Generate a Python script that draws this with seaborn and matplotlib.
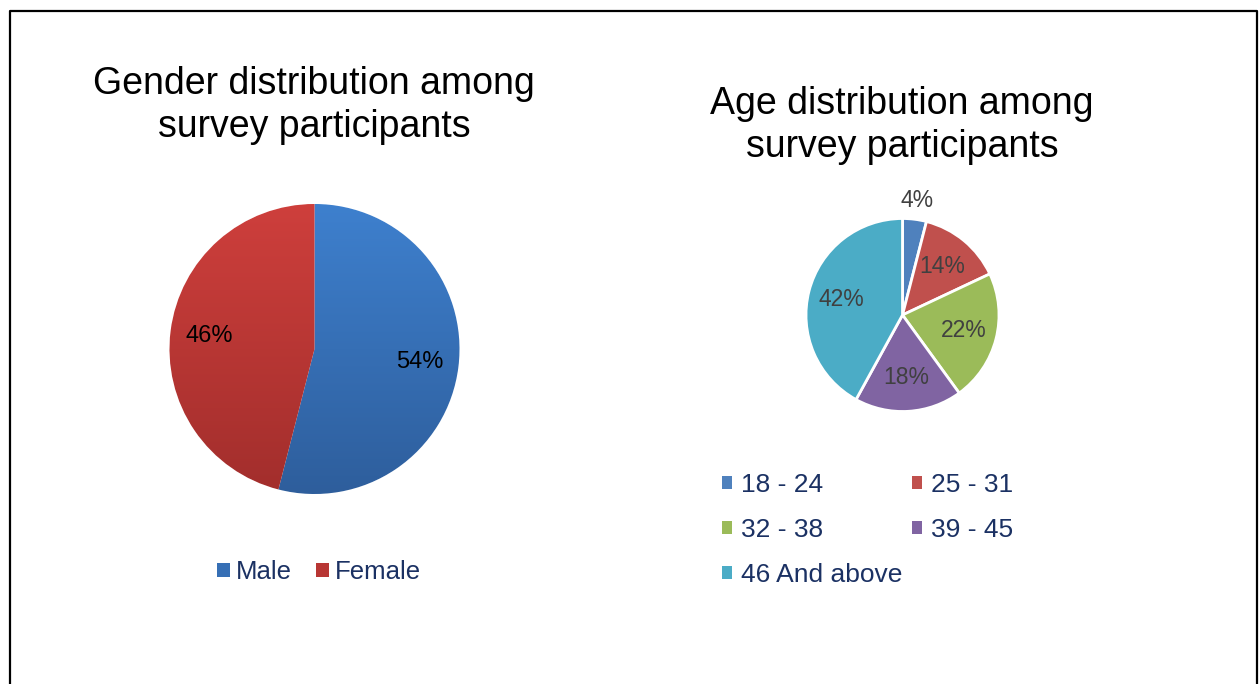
import numpy as np
import matplotlib
matplotlib.use("Agg")
import matplotlib.pyplot as plt
import matplotlib.patches as mpatches
from matplotlib.colors import LinearSegmentedColormap
from matplotlib.lines import Line2D
import seaborn as sns

# ---- data ----
gender_labels = ["Male", "Female"]
gender_values = [54, 46]
gender_top_colors = ["#3e80ce", "#ce3f3c"]
gender_bottom_colors = ["#2e5e9c", "#a22e2c"]

age_labels = ["18 - 24", "25 - 31", "32 - 38", "39 - 45", "46 And above"]
age_values = [4, 14, 22, 18, 42]
age_colors = ["#4f81bd", "#c0504d", "#9bbb59", "#8064a2", "#4bacc6"]

title_left = ["Gender distribution among", "survey participants"]
title_right = ["Age distribution among", "survey participants"]

sns.set_theme(style="white")
plt.rcParams["font.family"] = ["Liberation Sans", "DejaVu Sans"]

W, H = 1259, 684
fig = plt.figure(figsize=(W / 100, H / 100), dpi=100)
fig.patch.set_facecolor("white")

def fx(px):
    return px / W

def fy(py):
    return 1 - py / H

# frame border (open at the bottom)
fig.add_artist(Line2D([fx(9.5), fx(9.5), fx(1256.5), fx(1256.5)],
                      [-0.05, fy(10.5), fy(10.5), -0.05],
                      transform=fig.transFigure, color="black", lw=1.6))

navy = "#1b3163"
PAD = 1.04  # axes half-extent in pie-radius units, so the rim is not clipped

def pie_axes(cx, cy, r):
    R = r * PAD
    ax = fig.add_axes([fx(cx - R), fy(cy + R), 2 * R / W, 2 * R / H])
    return ax

# ---- left pie: gender ----
cxL, cyL, rL = 314.5, 349, 145
axL = pie_axes(cxL, cyL, rL)
wedgesL, textsL, autoL = axL.pie(gender_values, startangle=90, counterclock=False,
                                 colors=[sns.blend_palette([t, b], 3)[1] for t, b in zip(gender_top_colors, gender_bottom_colors)],
                                 autopct="%1.0f%%", pctdistance=0.73,
                                 textprops=dict(fontsize=17, color="black"))
axL.set_xlim(-PAD, PAD)
axL.set_ylim(-PAD, PAD)
grad = np.linspace(0, 1, 256).reshape(-1, 1)
for w, top, bot in zip(wedgesL, gender_top_colors, gender_bottom_colors):
    cmap = LinearSegmentedColormap.from_list("g", [top, bot])
    im = axL.imshow(grad, cmap=cmap, extent=(-PAD, PAD, -1, 1), origin="upper",
                    aspect="auto", zorder=1.5)
    im.set_clip_path(w)
for t in autoL:
    t.set_zorder(4)
axL.axis("off")

for i, line in enumerate(title_left):
    fig.text(fx(314), fy(94 + i * 42.7), line, ha="center", va="baseline",
             fontsize=27, color="black")

handlesL = [mpatches.Patch(facecolor=w.get_facecolor(), edgecolor="none") for w in wedgesL]
fig.legend(handlesL, gender_labels, loc="center", bbox_to_anchor=(fx(319), fy(572)),
           ncol=2, frameon=False, fontsize=18.5, handlelength=0.5, handleheight=0.5,
           handletextpad=0.23, columnspacing=0.92, borderpad=0, borderaxespad=0,
           labelcolor=navy)

# ---- right pie: age ----
cxR, cyR, rR = 902.5, 315, 96.5
axR = pie_axes(cxR, cyR, rR)
wedgesR, textsR, autoR = axR.pie(age_values, startangle=90, counterclock=False,
                                 colors=age_colors, autopct="%1.0f%%", pctdistance=0.65,
                                 wedgeprops=dict(edgecolor="white", linewidth=2.0),
                                 textprops=dict(fontsize=16.5, color="#404040"))
axR.set_xlim(-PAD, PAD)
axR.set_ylim(-PAD, PAD)
# smallest slice label sits outside the pie
w0 = wedgesR[0]
ang = np.deg2rad((w0.theta1 + w0.theta2) / 2)
autoR[0].set_position((1.2 * np.cos(ang), 1.2 * np.sin(ang)))
axR.axis("off")

for i, line in enumerate(title_right):
    fig.text(fx(902), fy(114 + i * 42.7), line, ha="center", va="baseline",
             fontsize=27, color="black")

# legend is read row by row: reorder so matplotlib's column filling matches
order = [0, 2, 4, 1, 3]
handlesR = [mpatches.Patch(facecolor=age_colors[i], edgecolor="none") for i in order]
fig.legend(handlesR, [age_labels[i] for i in order], loc="upper left",
           bbox_to_anchor=(fx(721.7), fy(473)),
           ncol=2, frameon=False, fontsize=19, handlelength=0.38, handleheight=0.38,
           handletextpad=0.34, columnspacing=0.37, labelspacing=0.8,
           borderpad=0, borderaxespad=0, labelcolor=navy)

fig.savefig("out.png", dpi=100, facecolor="white")
